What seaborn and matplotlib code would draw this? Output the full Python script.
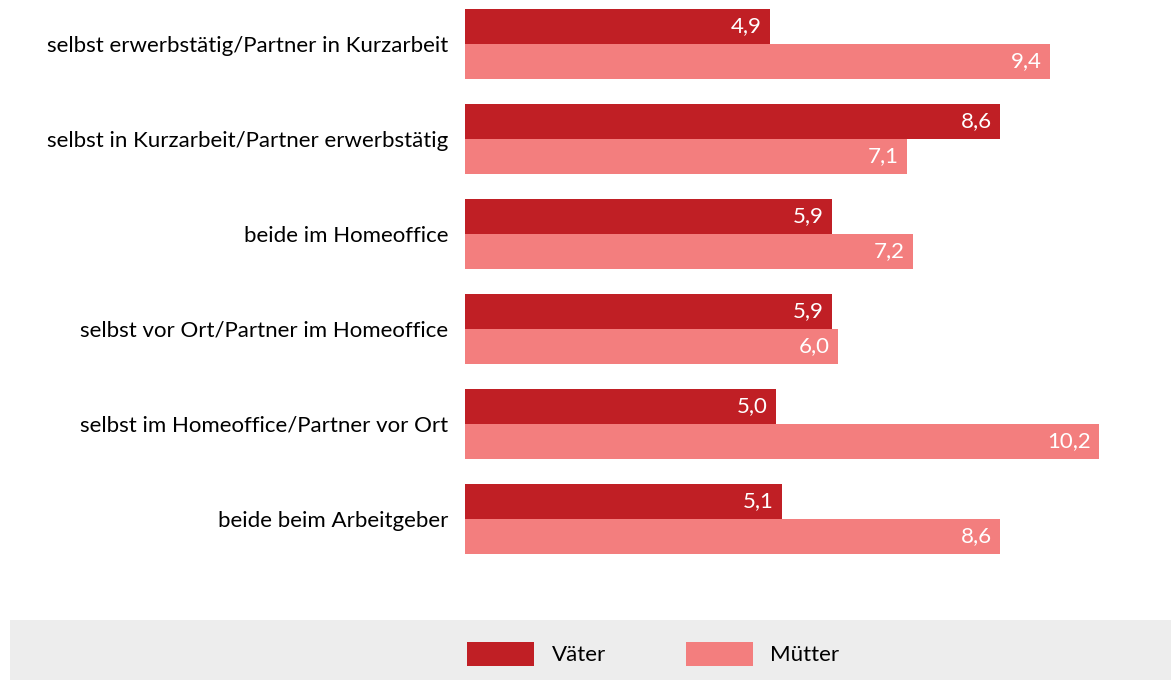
import matplotlib.pyplot as plt
import matplotlib.patches as mpatches
import seaborn as sns
import pandas as pd

# values
categories = [
    "selbst erwerbstätig/Partner in Kurzarbeit",
    "selbst in Kurzarbeit/Partner erwerbstätig",
    "beide im Homeoffice",
    "selbst vor Ort/Partner im Homeoffice",
    "selbst im Homeoffice/Partner vor Ort",
    "beide beim Arbeitgeber",
]
vaeter = [4.9, 8.6, 5.9, 5.9, 5.0, 5.1]
muetter = [9.4, 7.1, 7.2, 6.0, 10.2, 8.6]
series = ["Väter", "Mütter"]
colors = ["#C01F25", "#F37E7E"]

df = pd.DataFrame({
    "kategorie": categories * 2,
    "wert": vaeter + muetter,
    "gruppe": [series[0]] * 6 + [series[1]] * 6,
})

sns.set_style("white")
plt.rcParams["font.family"] = ["Lato", "DejaVu Sans"]
plt.rcParams["text.color"] = "black"
plt.rcParams["ytick.color"] = "black"

W, H = 1171, 680
fig = plt.figure(figsize=(W / 100, H / 100), dpi=100)
ax = fig.add_axes([465 / W, (H - 600) / H, 1 - 465 / W, 600 / H])

sns.barplot(data=df, y="kategorie", x="wert", hue="gruppe", orient="h",
            palette=colors, width=0.737, saturation=1, linewidth=0,
            ax=ax, legend=False)

ax.set_xlim(0, 706 / 62.2)
ax.set_ylim(5.853, -0.463)
ax.set_xlabel("")
ax.set_ylabel("")
ax.set_xticks([])
ax.tick_params(axis="y", length=0, pad=12, labelsize=16)
sns.despine(ax=ax, left=True, bottom=True, top=True, right=True)

# value labels inside bar ends
for cont in ax.containers:
    for bar in cont:
        v = bar.get_width()
        ax.text(v - 0.13, bar.get_y() + bar.get_height() / 2,
                f"{v:.1f}".replace(".", ","), ha="right", va="center",
                color="white", fontsize=16)

# grey legend band
fig.patches.append(mpatches.Rectangle((10 / W, 0), 1 - 10 / W, 60 / H,
                                      transform=fig.transFigure,
                                      facecolor="#EDEDED", edgecolor="none",
                                      zorder=0))
handles = [mpatches.Patch(color=c, label=s, linewidth=0) for c, s in zip(colors, series)]
fig.legend(handles=handles, loc="center", bbox_to_anchor=(0.558, 26 / H),
           ncol=2, frameon=False, fontsize=16, handlelength=3.0,
           handleheight=1.35, handletextpad=0.8, columnspacing=3.6)

fig.savefig("out.png", dpi=100)
